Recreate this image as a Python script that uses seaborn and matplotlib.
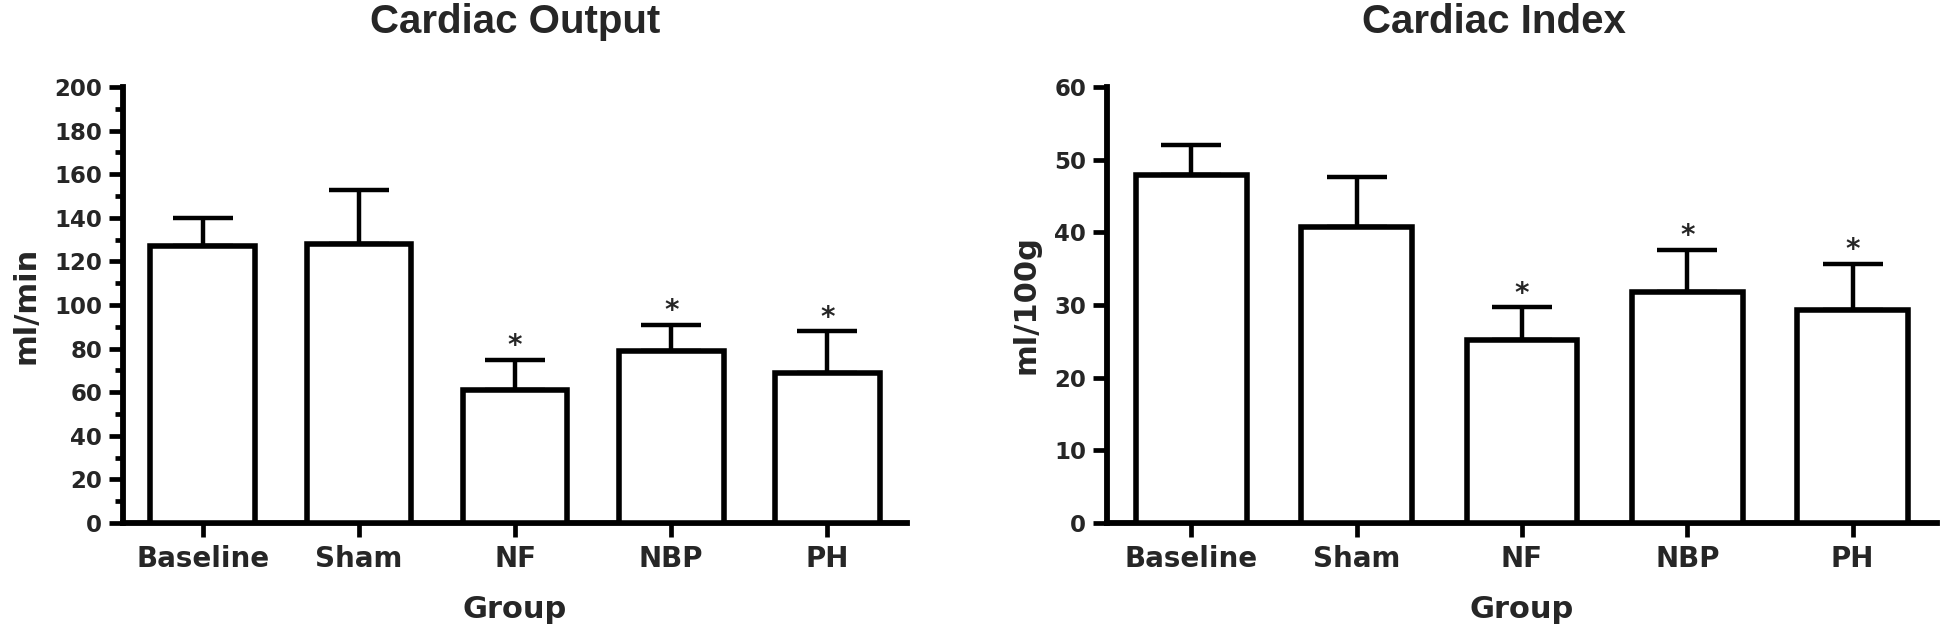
import numpy as np
import pandas as pd
import matplotlib
matplotlib.use("Agg")
import matplotlib.pyplot as plt
import seaborn as sns
from matplotlib.ticker import MultipleLocator

# данные
groups = ["Baseline", "Sham", "NF", "NBP", "PH"]

co_mean = [127, 128, 61, 79, 69]
co_sem = [13, 25, 14, 12, 19]

ci_mean = [47.9, 40.7, 25.2, 31.8, 29.3]
ci_sem = [4.1, 6.9, 4.5, 5.8, 6.4]

co_star = [False, False, True, True, True]
ci_star = [False, False, True, True, True]

sns.set_theme(style="white")
plt.rcParams["font.family"] = ["Liberation Sans", "DejaVu Sans"]
plt.rcParams["font.weight"] = "bold"

TICK_FONT = "DejaVu Sans"


def draw_panel(ax, means, errs, stars, title, ylabel, ymax, major, minor, title_x):
    df = pd.DataFrame({"Group": groups, "value": means})
    sns.barplot(data=df, x="Group", y="value", order=groups, ax=ax,
                color="white", edgecolor="black", linewidth=4,
                width=0.67, errorbar=None, zorder=3)
    x = np.arange(len(groups))
    ax.errorbar(x, means, yerr=[np.zeros(len(errs)), errs], fmt="none",
                ecolor="black", elinewidth=3.2, capsize=21.5, capthick=3.2,
                zorder=2)
    for xi, m, e, s in zip(x, means, errs, stars):
        if s:
            ax.annotate("*", (xi, m + e), xytext=(0, 4),
                        textcoords="offset points", ha="center", va="baseline",
                        fontsize=20, fontweight="bold", family=TICK_FONT)

    ax.set_ylim(0, ymax)
    ax.set_xlim(-0.51, 4.51)
    ax.yaxis.set_major_locator(MultipleLocator(major))
    if minor:
        ax.yaxis.set_minor_locator(MultipleLocator(minor))
    ax.set_title(title, fontsize=29, fontweight="bold", pad=39, x=title_x)
    ax.set_xlabel("Group", fontsize=22, fontweight="bold", labelpad=16,
                  family=TICK_FONT)
    ax.set_ylabel(ylabel, fontsize=22, fontweight="bold", labelpad=10,
                  family=TICK_FONT)

    sns.despine(ax=ax)
    for side in ["left", "bottom"]:
        ax.spines[side].set_linewidth(4.2)
        ax.spines[side].set_color("black")
    ax.tick_params(axis="both", which="major", direction="out", length=10,
                   width=3.4, color="black", left=True, bottom=True)
    ax.tick_params(axis="y", which="minor", direction="out", length=6,
                   width=3.4, color="black", left=True)
    ax.tick_params(axis="y", pad=5)
    ax.tick_params(axis="x", pad=6)
    for lab in ax.get_xticklabels():
        lab.set_fontweight("bold")
        lab.set_family(TICK_FONT)
        lab.set_fontsize(20)
    for lab in ax.get_yticklabels():
        lab.set_fontweight("bold")
        lab.set_family(TICK_FONT)
        lab.set_fontsize(16.5)
    ax.set_facecolor("white")


fig = plt.figure(figsize=(19.44, 6.3), dpi=100)
ax1 = fig.add_axes([0.0633, 0.1698, 0.4033, 0.692])
ax2 = fig.add_axes([0.5694, 0.1698, 0.427, 0.692])

draw_panel(ax1, co_mean, co_sem, co_star, "Cardiac Output", "ml/min",
           200, 20, 10, 0.5)
draw_panel(ax2, ci_mean, ci_sem, ci_star, "Cardiac Index", "ml/100g",
           60, 10, None, 0.466)

fig.savefig("out.png", dpi=100, facecolor="white")
